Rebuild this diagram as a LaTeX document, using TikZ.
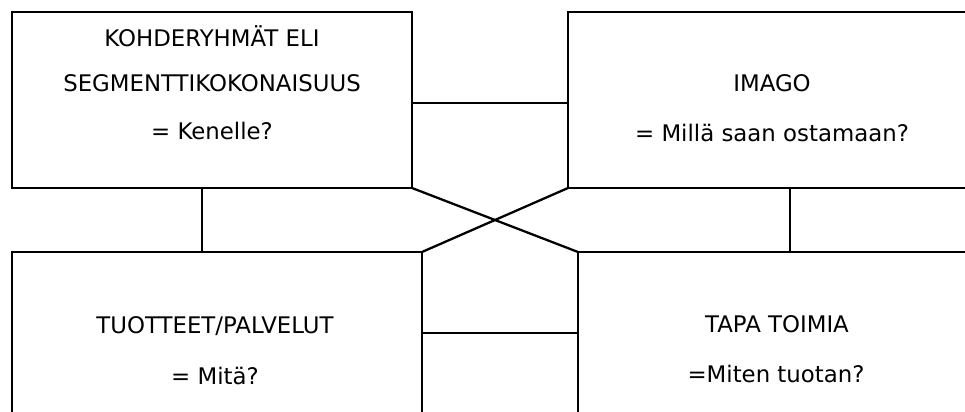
\documentclass[tikz,border=0pt]{standalone}
\usepackage{fontspec}
\usepackage{tikz}
\usetikzlibrary{calc}
\newfontfamily\boxfont{DejaVu Sans}

\begin{document}
\begin{tikzpicture}[
          x=0.02cm, y=-0.02cm,
          line width=1.3pt,
          every node/.style={font=\boxfont\fontsize{13}{15}\selectfont},
          area/.style={draw, line width=1.3pt, inner sep=0pt, outer sep=0pt},
          lbl/.style={anchor=base, inner sep=0pt}
      ]
        \useasboundingbox (0,0) rectangle (965,412);
        \clip (0,0) rectangle (965,412);

        \node[area, minimum width=8cm, minimum height=3.52cm] (kohde) at (212,100) {};
        \node[lbl] (kohdeA) at (212,47) {KOHDERYHMÄT ELI};
        \node[lbl] (kohdeB) at (212,92) {SEGMENTTIKOKONAISUUS};
        \node[lbl] (kohdeC) at (212,140) {= Kenelle?};

        \node[area, minimum width=8.88cm, minimum height=3.52cm] (imago) at (790,100) {};
        \node[lbl] (imagoA) at (772,92) {IMAGO};
        \node[lbl] (imagoB) at (772,142) {= Millä saan ostamaan?};

        \node[area, minimum width=8.2cm, minimum height=3.24cm] (tuote) at (217,333) {};
        \node[lbl] (tuoteA) at (215,334) {TUOTTEET/PALVELUT};
        \node[lbl] (tuoteB) at (215,384) {= Mitä?};

        \node[area, minimum width=7.96cm, minimum height=3.24cm] (tapa) at (777,333) {};
        \node[lbl] (tapaA) at (777,333) {TAPA TOIMIA};
        \node[lbl] (tapaB) at (776,382) {=Miten tuotan?};

        % connectors
        \draw ($(kohde.east)+(0,3)$) -- ($(imago.west)+(0,3)$);
        \coordinate (kv) at ($(kohde.south)+(-10,0)$);
        \draw (kv) -- (kv |- tuote.north);
        \draw (imago.south) -- (imago.south |- tapa.north);
        \draw (kohde.south east) -- (tapa.north west);
        \draw (imago.south west) -- (tuote.north east);
        \draw (tuote.east) -- (tapa.west);
      \end{tikzpicture}
\end{document}
